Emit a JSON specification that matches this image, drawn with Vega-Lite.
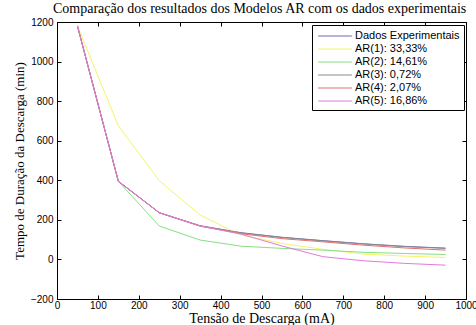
{
  "$schema": "https://vega.github.io/schema/vega-lite/v6.json",
  "width": 409,
  "height": 277,
  "autosize": "none",
  "padding": {"left": 57, "top": 22, "right": 10, "bottom": 26},
  "background": "white",
  "title": {
    "text": "Comparação dos resultados dos Modelos AR com os dados experimentais",
    "font": "Liberation Serif",
    "fontSize": 14,
    "fontWeight": "normal",
    "color": "black",
    "anchor": "start",
    "frame": "group",
    "dx": -4,
    "offset": 1
  },
  "config": {
    "view": {"stroke": "black", "strokeWidth": 1},
    "axis": {
      "grid": false,
      "domainColor": "black",
      "tickColor": "black",
      "labelColor": "black",
      "labelFont": "Liberation Sans",
      "labelFontSize": 10,
      "titleFont": "Liberation Serif",
      "titleFontSize": 13,
      "titleFontWeight": "normal",
      "titleColor": "black",
      "tickSize": -4,
      "format": "d"
    }
  },
  "data": {
    "values": [
      {"x": 50, "y": 1180, "s": "Dados Experimentais"},
      {"x": 150, "y": 395, "s": "Dados Experimentais"},
      {"x": 250, "y": 236, "s": "Dados Experimentais"},
      {"x": 350, "y": 170, "s": "Dados Experimentais"},
      {"x": 450, "y": 135, "s": "Dados Experimentais"},
      {"x": 550, "y": 112, "s": "Dados Experimentais"},
      {"x": 650, "y": 95, "s": "Dados Experimentais"},
      {"x": 750, "y": 79, "s": "Dados Experimentais"},
      {"x": 850, "y": 66, "s": "Dados Experimentais"},
      {"x": 950, "y": 57, "s": "Dados Experimentais"},

      {"x": 50, "y": 1180, "s": "AR(1): 33,33%"},
      {"x": 150, "y": 675, "s": "AR(1): 33,33%"},
      {"x": 250, "y": 398, "s": "AR(1): 33,33%"},
      {"x": 350, "y": 224, "s": "AR(1): 33,33%"},
      {"x": 450, "y": 123, "s": "AR(1): 33,33%"},
      {"x": 550, "y": 81, "s": "AR(1): 33,33%"},
      {"x": 650, "y": 51, "s": "AR(1): 33,33%"},
      {"x": 750, "y": 27, "s": "AR(1): 33,33%"},
      {"x": 850, "y": 17, "s": "AR(1): 33,33%"},
      {"x": 950, "y": 10, "s": "AR(1): 33,33%"},

      {"x": 50, "y": 1180, "s": "AR(2): 14,61%"},
      {"x": 150, "y": 395, "s": "AR(2): 14,61%"},
      {"x": 250, "y": 169, "s": "AR(2): 14,61%"},
      {"x": 350, "y": 98, "s": "AR(2): 14,61%"},
      {"x": 450, "y": 67, "s": "AR(2): 14,61%"},
      {"x": 550, "y": 56, "s": "AR(2): 14,61%"},
      {"x": 650, "y": 47, "s": "AR(2): 14,61%"},
      {"x": 750, "y": 36, "s": "AR(2): 14,61%"},
      {"x": 850, "y": 30, "s": "AR(2): 14,61%"},
      {"x": 950, "y": 25, "s": "AR(2): 14,61%"},

      {"x": 50, "y": 1180, "s": "AR(3): 0,72%"},
      {"x": 150, "y": 395, "s": "AR(3): 0,72%"},
      {"x": 250, "y": 236, "s": "AR(3): 0,72%"},
      {"x": 350, "y": 170, "s": "AR(3): 0,72%"},
      {"x": 450, "y": 134, "s": "AR(3): 0,72%"},
      {"x": 550, "y": 111, "s": "AR(3): 0,72%"},
      {"x": 650, "y": 94, "s": "AR(3): 0,72%"},
      {"x": 750, "y": 78, "s": "AR(3): 0,72%"},
      {"x": 850, "y": 65, "s": "AR(3): 0,72%"},
      {"x": 950, "y": 56, "s": "AR(3): 0,72%"},

      {"x": 50, "y": 1180, "s": "AR(4): 2,07%"},
      {"x": 150, "y": 395, "s": "AR(4): 2,07%"},
      {"x": 250, "y": 236, "s": "AR(4): 2,07%"},
      {"x": 350, "y": 168, "s": "AR(4): 2,07%"},
      {"x": 450, "y": 130, "s": "AR(4): 2,07%"},
      {"x": 550, "y": 105, "s": "AR(4): 2,07%"},
      {"x": 650, "y": 89, "s": "AR(4): 2,07%"},
      {"x": 750, "y": 72, "s": "AR(4): 2,07%"},
      {"x": 850, "y": 58, "s": "AR(4): 2,07%"},
      {"x": 950, "y": 47, "s": "AR(4): 2,07%"},

      {"x": 50, "y": 1180, "s": "AR(5): 16,86%"},
      {"x": 150, "y": 395, "s": "AR(5): 16,86%"},
      {"x": 250, "y": 236, "s": "AR(5): 16,86%"},
      {"x": 350, "y": 169, "s": "AR(5): 16,86%"},
      {"x": 450, "y": 128, "s": "AR(5): 16,86%"},
      {"x": 550, "y": 68, "s": "AR(5): 16,86%"},
      {"x": 650, "y": 14, "s": "AR(5): 16,86%"},
      {"x": 750, "y": -7, "s": "AR(5): 16,86%"},
      {"x": 850, "y": -20, "s": "AR(5): 16,86%"},
      {"x": 950, "y": -29, "s": "AR(5): 16,86%"}
    ]
  },
  "layer": [
    {
      "mark": {"type": "line", "strokeWidth": 1, "clip": true},
      "encoding": {
        "x": {
          "field": "x", "type": "quantitative",
          "scale": {"domain": [0, 1000], "nice": false, "zero": false},
          "axis": {"title": "Tensão de Descarga (mA)", "titleFontSize": 14, "values": [0,100,200,300,400,500,600,700,800,900,1000], "labelPadding": 5, "titlePadding": 1, "labelFlush": false}
        },
        "y": {
          "field": "y", "type": "quantitative",
          "scale": {"domain": [-200, 1200], "nice": false, "zero": false},
          "axis": {"title": "Tempo de Duração da Descarga (min)", "values": [-200,0,200,400,600,800,1000,1200], "labelPadding": 8, "titlePadding": 4, "labelFlush": false}
        },
        "color": {
          "field": "s", "type": "nominal",
          "scale": {
            "domain": ["Dados Experimentais", "AR(1): 33,33%", "AR(2): 14,61%", "AR(3): 0,72%", "AR(4): 2,07%", "AR(5): 16,86%"],
            "range": ["#6a6ab4", "#f4f46a", "#86e086", "#8a8a8a", "#e07070", "#e07ae0"]
          },
          "legend": {
            "title": null,
            "orient": "none",
            "legendX": 255,
            "legendY": 3,
            "symbolType": "M-2.6,0H2.6",
            "symbolSize": 169,
            "symbolStrokeWidth": 1,
            "symbolFillColor": "transparent",
            "labelFont": "Liberation Sans",
            "labelFontSize": 11,
            "labelColor": "black",
            "strokeColor": "black",
            "fillColor": "white",
            "padding": 4,
            "rowPadding": 1,
            "labelOffset": 13,
            "symbolOffset": 12
          }
        },
        "order": {"value": 0}
      }
    },
    {
      "mark": {"type": "line", "opacity": 0},
      "encoding": {
        "x": {"field": "x", "type": "quantitative", "axis": {"orient": "top", "title": null, "labels": false, "domain": false, "values": [0,100,200,300,400,500,600,700,800,900,1000]}},
        "y": {"field": "y", "type": "quantitative", "axis": {"orient": "right", "title": null, "labels": false, "domain": false, "values": [-200,0,200,400,600,800,1000,1200]}}
      }
    }
  ],
  "resolve": {"axis": {"x": "independent", "y": "independent"}}
}
